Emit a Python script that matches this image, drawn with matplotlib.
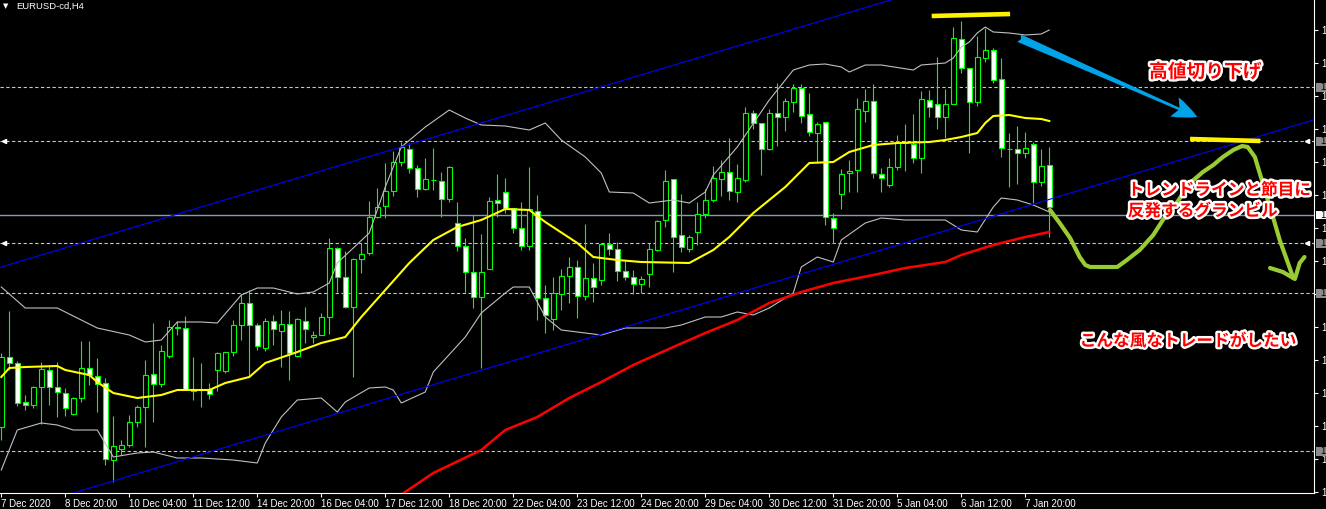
import numpy as np
import matplotlib
matplotlib.use("Agg")
import matplotlib.pyplot as plt
import matplotlib.patheffects as pe
import matplotlib.transforms as mtrans
from matplotlib.patches import Rectangle

plt.rcParams['font.family'] = ['Noto Sans CJK JP', 'DejaVu Sans']

# EURUSD H4 bars, bar 0 = first bar of 7 Dec 2020
opens = [1.1973, 1.2043, 1.2037, 1.1998, 1.1995, 1.2013, 1.2030, 1.2013, 1.2007, 1.1986,
         1.2002, 1.2032, 1.2024, 1.2017, 1.1940, 1.1951, 1.1955, 1.1978, 1.1993, 1.2026,
         1.2016, 1.2044, 1.2072, 1.2072, 1.2011, 1.2010, 1.2011, 1.2030, 1.2029, 1.2048,
         1.2075, 1.2097, 1.2075, 1.2052, 1.2079, 1.2069, 1.2076, 1.2044, 1.2079, 1.2063,
         1.2065, 1.2083, 1.2152, 1.2123, 1.2093, 1.2141, 1.2147, 1.2183, 1.2194, 1.2209,
         1.2238, 1.2251, 1.2232, 1.2211, 1.2220, 1.2219, 1.2201, 1.2177, 1.2154, 1.2128,
         1.2103, 1.2131, 1.2200, 1.2208, 1.2192, 1.2172, 1.2154, 1.2189, 1.2102, 1.2081,
         1.2106, 1.2124, 1.2133, 1.2104, 1.2122, 1.2120, 1.2156, 1.2151, 1.2129, 1.2123,
         1.2116, 1.2126, 1.2150, 1.2180, 1.2221, 1.2165, 1.2151, 1.2168, 1.2186, 1.2200,
         1.2221, 1.2228, 1.2208, 1.2220, 1.2287, 1.2277, 1.2251, 1.2287, 1.2283, 1.2298,
         1.2312, 1.2286, 1.2267, 1.2278, 1.2182, 1.2206, 1.2227, 1.2230, 1.2289, 1.2299,
         1.2226, 1.2215, 1.2233, 1.2257, 1.2256, 1.2242, 1.2300, 1.2296, 1.2283, 1.2296,
         1.2361, 1.2332, 1.2298, 1.2342, 1.2350, 1.2321, 1.2251, 1.2251, 1.2247, 1.2256,
         1.2218, 1.2235]
highs = [1.2047, 1.2089, 1.2039, 1.2005, 1.2014, 1.2038, 1.2035, 1.2038, 1.2012, 1.2003,
         1.2059, 1.2059, 1.2042, 1.2022, 1.1984, 1.1960, 1.1985, 1.1995, 1.2040, 1.2077,
         1.2055, 1.2080, 1.2079, 1.2084, 1.2043, 1.2037, 1.2017, 1.2048, 1.2048, 1.2080,
         1.2106, 1.2110, 1.2077, 1.2082, 1.2085, 1.2090, 1.2089, 1.2082, 1.2093, 1.2069,
         1.2087, 1.2162, 1.2153, 1.2149, 1.2142, 1.2157, 1.2199, 1.2212, 1.2237, 1.2249,
         1.2258, 1.2257, 1.2235, 1.2242, 1.2252, 1.2228, 1.2234, 1.2198, 1.2162, 1.2185,
         1.2166, 1.2203, 1.2226, 1.2222, 1.2192, 1.2198, 1.2233, 1.2205, 1.2115, 1.2123,
         1.2131, 1.2143, 1.2140, 1.2176, 1.2137, 1.2157, 1.2167, 1.2158, 1.2139, 1.2130,
         1.2124, 1.2157, 1.2180, 1.2230, 1.2221, 1.2206, 1.2165, 1.2198, 1.2211, 1.2234,
         1.2240, 1.2262, 1.2236, 1.2293, 1.2290, 1.2277, 1.2291, 1.2317, 1.2302, 1.2316,
         1.2316, 1.2307, 1.2278, 1.2278, 1.2187, 1.2231, 1.2240, 1.2302, 1.2311, 1.2316,
         1.2232, 1.2242, 1.2265, 1.2276, 1.2286, 1.2309, 1.2310, 1.2343, 1.2311, 1.2373,
         1.2379, 1.2332, 1.2364, 1.2372, 1.2352, 1.2342, 1.2267, 1.2274, 1.2268, 1.2258,
         1.2251, 1.2253]
lows = [1.1960, 1.2030, 1.1994, 1.1990, 1.1992, 1.1976, 1.1995, 1.1983, 1.1984, 1.1985,
        1.1998, 1.2015, 1.1988, 1.1935, 1.1918, 1.1945, 1.1953, 1.1973, 1.1953, 1.1978,
        1.2013, 1.2042, 1.2065, 1.2010, 1.2000, 1.1993, 1.2001, 1.2009, 1.2027, 1.2044,
        1.2060, 1.2023, 1.2050, 1.2049, 1.2055, 1.2033, 1.2020, 1.2043, 1.2057, 1.2057,
        1.2065, 1.2066, 1.2108, 1.2092, 1.2023, 1.2127, 1.2145, 1.2182, 1.2182, 1.2204,
        1.2234, 1.2227, 1.2203, 1.2210, 1.2210, 1.2183, 1.2198, 1.2149, 1.2108, 1.2092,
        1.2032, 1.2131, 1.2183, 1.2187, 1.2167, 1.2150, 1.2150, 1.2080, 1.2067, 1.2070,
        1.2090, 1.2097, 1.2082, 1.2100, 1.2098, 1.2115, 1.2145, 1.2119, 1.2120, 1.2106,
        1.2107, 1.2113, 1.2149, 1.2173, 1.2128, 1.2148, 1.2148, 1.2155, 1.2182, 1.2198,
        1.2204, 1.2200, 1.2198, 1.2218, 1.2271, 1.2225, 1.2250, 1.2254, 1.2269, 1.2288,
        1.2277, 1.2264, 1.2237, 1.2175, 1.2157, 1.2191, 1.2208, 1.2208, 1.2278, 1.2222,
        1.2208, 1.2213, 1.2230, 1.2229, 1.2237, 1.2227, 1.2283, 1.2271, 1.2262, 1.2296,
        1.2327, 1.2247, 1.2294, 1.2338, 1.2317, 1.2243, 1.2213, 1.2216, 1.2242, 1.2197,
        1.2214, 1.2163]
closes = [1.2043, 1.2037, 1.1997, 1.1995, 1.2013, 1.2031, 1.2013, 1.2008, 1.1992, 1.2002,
          1.2032, 1.2025, 1.2016, 1.1941, 1.1954, 1.1955, 1.1978, 1.1993, 1.2025, 1.2016,
          1.2049, 1.2073, 1.2073, 1.2011, 1.2009, 1.2010, 1.2006, 1.2047, 1.2048, 1.2075,
          1.2097, 1.2075, 1.2054, 1.2079, 1.2071, 1.2076, 1.2047, 1.2081, 1.2071, 1.2065,
          1.2083, 1.2152, 1.2123, 1.2093, 1.2141, 1.2146, 1.2183, 1.2193, 1.2209, 1.2238,
          1.2253, 1.2232, 1.2211, 1.2221, 1.2220, 1.2201, 1.2233, 1.2154, 1.2128, 1.2103,
          1.2128, 1.2199, 1.2197, 1.2192, 1.2172, 1.2154, 1.2191, 1.2102, 1.2085, 1.2107,
          1.2124, 1.2133, 1.2104, 1.2122, 1.2113, 1.2156, 1.2151, 1.2129, 1.2123, 1.2116,
          1.2121, 1.2151, 1.2179, 1.2219, 1.2163, 1.2153, 1.2163, 1.2186, 1.2200, 1.2222,
          1.2228, 1.2209, 1.2222, 1.2287, 1.2277, 1.2251, 1.2287, 1.2283, 1.2299, 1.2312,
          1.2284, 1.2268, 1.2276, 1.2183, 1.2172, 1.2226, 1.2229, 1.2291, 1.2299, 1.2227,
          1.2222, 1.2233, 1.2258, 1.2258, 1.2242, 1.2301, 1.2293, 1.2283, 1.2296, 1.2362,
          1.2332, 1.2298, 1.2343, 1.2350, 1.2320, 1.2252, 1.2251, 1.2247, 1.2252, 1.2218,
          1.2234, 1.2193]

tick_bars = [0, 8, 16, 24, 32, 40, 48, 56, 64, 72, 80, 88, 96, 104, 112, 120, 128]
tick_labels = ["7 Dec 2020", "8 Dec 20:00", "10 Dec 04:00", "11 Dec 12:00", "14 Dec 20:00",
               "16 Dec 04:00", "17 Dec 12:00", "18 Dec 20:00", "22 Dec 04:00", "23 Dec 12:00",
               "24 Dec 20:00", "29 Dec 04:00", "30 Dec 12:00", "31 Dec 20:00", "5 Jan 04:00",
               "6 Jan 12:00", "7 Jan 20:00"]
price_ticks = [1.2370, 1.2337, 1.2304, 1.2271, 1.2238, 1.2205, 1.2172, 1.2139, 1.2106,
               1.2073, 1.2040, 1.2007, 1.1974, 1.1941, 1.1908]

# Bollinger bands (upper / lower) and the yellow middle MA, read at sample bars
bb_up_x = [0, 3, 7, 12, 16, 18, 20, 22, 25, 27, 30, 32, 34, 37, 39, 41, 42, 46, 48, 50,
           53, 56, 58, 60, 63, 66, 68, 70, 73, 75, 76, 79, 81, 84, 86, 88, 89, 92, 96, 99,
           101, 103, 105, 106, 108, 110, 114, 115, 118, 119, 120, 121, 122, 123, 124, 126,
           128, 130, 131]
bb_up = [1.2113, 1.2092, 1.2092, 1.2072, 1.2065, 1.2058, 1.2060, 1.2078, 1.2078, 1.2077,
         1.2105, 1.2112, 1.2112, 1.2106, 1.2108, 1.2117, 1.2137, 1.2167, 1.2213, 1.2253,
         1.2273, 1.2290, 1.2282, 1.2275, 1.2274, 1.2270, 1.2277, 1.2260, 1.2243, 1.2227,
         1.2208, 1.2207, 1.2197, 1.2200, 1.2197, 1.2208, 1.2225, 1.2253, 1.2300, 1.2330,
         1.2335, 1.2336, 1.2333, 1.2328, 1.2335, 1.2335, 1.2330, 1.2335, 1.2337, 1.2342,
         1.2353, 1.2358, 1.2367, 1.2373, 1.2368, 1.2367, 1.2365, 1.2366, 1.2370]
bb_lo_x = [0, 2, 5, 7, 9, 12, 14, 17, 19, 22, 25, 29, 32, 33, 35, 37, 40, 42, 43, 46,
           48, 49, 50, 53, 54, 58, 60, 63, 64, 66, 68, 70, 73, 75, 78, 83, 85, 88, 90, 92,
           94, 96, 99, 100, 102, 104, 105, 108, 110, 113, 118, 120, 122, 124, 125, 127,
           129, 131]
bb_lo = [1.1930, 1.1970, 1.1977, 1.1975, 1.1970, 1.1970, 1.1943, 1.1947, 1.1948, 1.1942,
         1.1942, 1.1940, 1.1937, 1.1957, 1.1983, 1.2000, 1.2002, 1.1988, 1.1998, 1.2012,
         1.2013, 1.2010, 1.1997, 1.2008, 1.2028, 1.2063, 1.2087, 1.2107, 1.2113, 1.2113,
         1.2083, 1.2070, 1.2067, 1.2065, 1.2072, 1.2072, 1.2075, 1.2083, 1.2083, 1.2088,
         1.2085, 1.2092, 1.2107, 1.2133, 1.2143, 1.2138, 1.2160, 1.2177, 1.2182, 1.2180,
         1.2180, 1.2170, 1.2168, 1.2193, 1.2202, 1.2200, 1.2195, 1.2188]
ma_x = [0, 1, 3, 7, 8, 11, 12, 14, 17, 20, 22, 26, 28, 31, 33, 37, 40, 43, 45, 48,
        51, 54, 57, 60, 63, 66, 68, 72, 74, 77, 80, 86, 89, 91, 94, 98, 101, 104, 106, 109,
        112, 116, 118, 120, 122, 123, 124, 126, 128, 130, 131]
ma = [1.2023, 1.2032, 1.2033, 1.2034, 1.2030, 1.2025, 1.2018, 1.2007, 1.2002, 1.2005,
      1.2010, 1.2010, 1.2017, 1.2023, 1.2037, 1.2048, 1.2057, 1.2063, 1.2083, 1.2110,
      1.2137, 1.2160, 1.2173, 1.2180, 1.2191, 1.2190, 1.2178, 1.2157, 1.2143, 1.2140,
      1.2138, 1.2137, 1.2150, 1.2163, 1.2187, 1.2213, 1.2237, 1.2238, 1.2248, 1.2255,
      1.2257, 1.2258, 1.2260, 1.2263, 1.2267, 1.2277, 1.2284, 1.2285, 1.2282, 1.2281,
      1.2279]
# long MA (red)
ma_long_x = [49, 54, 60, 63, 67, 71, 75, 79, 84, 88, 92, 96, 100, 104, 109, 113, 118,
             120, 124, 128, 131]
ma_long = [1.1900, 1.1927, 1.1950, 1.1970, 1.1983, 1.2002, 1.2018, 1.2035, 1.2053, 1.2067,
           1.2080, 1.2097, 1.2108, 1.2117, 1.2125, 1.2132, 1.2138, 1.2145, 1.2155, 1.2163,
           1.2168]

# chart objects: channel lines, horizontal levels, bid
chan_upper = [(0, 1.2133), (112, 1.2402)]
chan_lower = [(9, 1.1907), (164, 1.2280)]
levels = [1.2313, 1.2259, 1.2157, 1.2107, 1.1949]
bid = 1.2185

# hand drawn annotations
hl1_x, hl1_y = [116.3, 126.1], [1.2384, 1.2386]
hl2_x, hl2_y = [148.6, 157.4], [1.2261, 1.2259]
arrow_tail, arrow_tip = (127.2, 1.2362), (149.5, 1.2283)
path_x = [131.1, 132.3, 133.6, 134.8, 135.5, 136.1, 139.5, 140.7, 142.3, 144.0, 145.2,
          147.0, 148.6, 150.2, 151.5, 152.7, 154.0, 155.1, 155.8, 156.7, 157.3, 158.2,
          159.0, 159.8, 160.7, 161.5]
path_y = [1.2190, 1.2177, 1.2162, 1.2143, 1.2135, 1.2133, 1.2133, 1.2140, 1.2150, 1.2165,
          1.2180, 1.2198, 1.2217, 1.2228, 1.2235, 1.2243, 1.2250, 1.2254, 1.2253, 1.2243,
          1.2227, 1.2203, 1.2182, 1.2160, 1.2140, 1.2122]
head_x = [158.6, 160.2, 161.7, 162.3, 162.9]
head_y = [1.2132, 1.2128, 1.2121, 1.2137, 1.2143]

fig = plt.figure(figsize=(13.26, 5.09), dpi=100, facecolor='black')
ax = fig.add_axes([0, 16 / 509, 1314 / 1326, 493 / 509])
ax.set_facecolor('black')
ax.set_xlim(-0.16, 164.09)
ax.set_ylim(1.1907, 1.2400)

# horizontal levels
for lv in levels:
    ax.axhline(lv, color='#c8c8c8', lw=0.8, ls=(0, (3, 2.2)), zorder=1)
ax.axhline(bid, color='#8a9aae', lw=1.0, zorder=1)

# candles
green = '#00ff00'
for i in range(len(opens)):
    ax.vlines(i, lows[i], highs[i], color=green, lw=0.8, zorder=2)
    bot = min(opens[i], closes[i])
    h = abs(closes[i] - opens[i])
    fc = 'white' if closes[i] < opens[i] else 'black'
    ax.add_patch(Rectangle((i - 0.3, bot), 0.6, h, facecolor=fc, edgecolor=green,
                           lw=0.8, zorder=3))

# indicators
ax.plot(bb_up_x, bb_up, color='#c0c0c0', lw=0.8, zorder=4)
ax.plot(bb_lo_x, bb_lo, color='#c0c0c0', lw=0.8, zorder=4)
ax.plot(ma_x, ma, color='#ffff00', lw=1.5, zorder=4)
ax.plot(ma_long_x, ma_long, color='#ff0000', lw=1.8, zorder=4)
ax.axline(chan_upper[0], chan_upper[1], color='#0000ff', lw=0.8, zorder=4)
ax.axline(chan_lower[0], chan_lower[1], color='#0000ff', lw=0.8, zorder=4)

# annotations
ax.plot(hl1_x, hl1_y, color='#fff200', lw=3.3, solid_capstyle='butt', zorder=6)
ax.plot(hl2_x, hl2_y, color='#fff200', lw=3.3, solid_capstyle='butt', zorder=6)
ax.annotate('', xy=arrow_tip, xytext=arrow_tail, zorder=6,
            arrowprops=dict(arrowstyle='fancy,head_length=0.9,head_width=0.75,tail_width=0.3',
                            color='#00a2e8', lw=0, shrinkA=0, shrinkB=0, mutation_scale=20))
ax.plot(path_x, path_y, color='#99cc33', lw=3, solid_capstyle='round',
        solid_joinstyle='round', zorder=6)
ax.plot(head_x, head_y, color='#99cc33', lw=3, solid_capstyle='round',
        solid_joinstyle='round', zorder=6)

outline = [pe.withStroke(linewidth=3.5, foreground='white')]
ax.text(150.5, 1.2328, '高値切り下げ', color='#ff0000', fontsize=13.5, fontweight='bold',
        ha='center', va='center', path_effects=outline, zorder=7)
ax.text(140.8, 1.2210, 'トレンドラインと節目に', color='#ff0000', fontsize=12, fontweight='bold',
        ha='left', va='center', path_effects=outline, zorder=7)
ax.text(140.8, 1.2189, '反発するグランビル', color='#ff0000', fontsize=12, fontweight='bold',
        ha='left', va='center', path_effects=outline, zorder=7)
ax.text(134.8, 1.2059, 'こんな風なトレードがしたい', color='#ff0000', fontsize=12,
        fontweight='bold', ha='left', va='center', path_effects=outline, zorder=7)

# axes styling (MT4 look)
for side in ['left', 'top']:
    ax.spines[side].set_visible(False)
for side in ['right', 'bottom']:
    ax.spines[side].set_color('white')
    ax.spines[side].set_linewidth(0.8)
ax.set_xticks(tick_bars)
ax.set_xticklabels(tick_labels, fontfamily='Liberation Sans', fontsize=7, color='white', ha='left')
ax.tick_params(axis='x', colors='white', length=3, width=0.8, pad=1.5)
ax.yaxis.tick_right()
ax.set_yticks(price_ticks)
ax.set_yticklabels(['1'] * len(price_ticks), fontfamily='Liberation Sans', fontsize=7,
                   color='white')
ax.tick_params(axis='y', colors='white', length=3, width=0.8, pad=2)

# price tags on the right scale
blend = mtrans.blended_transform_factory(ax.transAxes, ax.transData)
for lv in levels:
    ax.add_patch(Rectangle((1.0015, lv - 0.00045), 0.0076, 0.0009, transform=blend,
                           facecolor='#8c8c8c', edgecolor='none', clip_on=False, zorder=8))
    ax.text(1.0045, lv, '1', transform=blend, color='black', fontsize=7,
            fontfamily='Liberation Sans', va='center', ha='left', clip_on=False, zorder=9)
ax.add_patch(Rectangle((1.0015, bid - 0.0004), 0.0076, 0.0008, transform=blend,
                       facecolor='white', edgecolor='none', clip_on=False, zorder=8))
ax.text(1.0045, bid, '1', transform=blend, color='black', fontsize=7,
        fontfamily='Liberation Sans', va='center', ha='left', clip_on=False, zorder=9)
for lv in [levels[1], levels[2]]:
    ax.plot([0.003, 0.995], [lv, lv], transform=blend, ls='none', marker='<', ms=3,
            color='white', zorder=8)

# title
fig.text(3 / 1326, 1 - 6 / 509, '▼', color='white', fontsize=5, fontfamily='DejaVu Sans',
         va='center', ha='left')
fig.text(16 / 1326, 1 - 6 / 509, 'EURUSD-cd,H4', color='white', fontsize=6.8,
         fontfamily='Liberation Sans', va='center', ha='left')

fig.savefig('out.png', dpi=100, facecolor='black')
